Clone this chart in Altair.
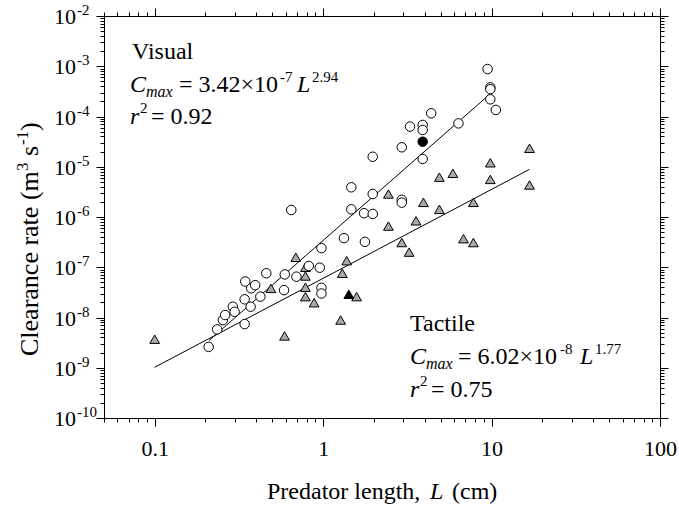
import altair as alt
import pandas as pd

FONT = "Liberation Serif"

# ---- data ----
vis_L = [0.209, 0.235, 0.254, 0.262, 0.291, 0.298, 0.342, 0.342, 0.345, 0.371,
         0.374, 0.395, 0.424, 0.46, 0.586, 0.592, 0.647, 0.694, 0.822, 0.955,
         0.977, 0.977, 0.977, 1.33, 1.47, 1.47, 1.75, 1.77, 1.97, 1.97,
         1.97, 2.93, 2.93, 2.93, 3.28, 3.9, 3.9, 3.9, 4.38, 6.36,
         9.47, 9.83, 9.83, 9.83, 10.6]
vis_C = [2.6e-9, 5.8e-9, 8.9e-9, 1.12e-8, 1.64e-8, 1.3e-8, 7.4e-9, 2.3e-8, 5.2e-8, 1.64e-8,
         3.8e-8, 4.4e-8, 2.6e-8, 7.6e-8, 3.5e-8, 7.2e-8, 1.38e-6, 6.5e-8, 1.06e-7, 9.8e-8,
         2.4e-7, 3.9e-8, 3.0e-8, 3.8e-7, 3.9e-6, 1.42e-6, 1.19e-6, 3.2e-7, 2.87e-6, 1.15e-6,
         1.58e-5, 2.2e-6, 1.93e-6, 2.44e-5, 6.3e-5, 6.8e-5, 5.4e-5, 1.43e-5, 1.16e-4, 7.3e-5,
         8.8e-4, 3.8e-4, 3.5e-4, 2.2e-4, 1.35e-4]

tac_L = [0.1, 0.49, 0.59, 0.688, 0.785, 0.785, 0.785, 0.785, 0.884, 1.27,
         1.30, 1.38, 1.58, 2.44, 2.44, 2.93, 3.24, 3.56, 3.94, 4.9,
         4.9, 5.89, 6.81, 7.8, 7.8, 9.83, 9.83, 16.8, 16.8]
tac_C = [3.7e-9, 3.8e-8, 4.3e-9, 1.58e-7, 1.0e-7, 6.7e-8, 4.0e-8, 2.6e-8, 1.97e-8, 8.9e-9,
         7.6e-8, 1.35e-7, 2.6e-8, 2.87e-6, 6.6e-7, 3.1e-7, 2.0e-7, 8.4e-7, 1.96e-6, 6.2e-6,
         1.42e-6, 7.4e-6, 3.7e-7, 3.1e-7, 1.96e-6, 1.2e-5, 5.6e-6, 2.33e-5, 4.34e-6]

vis_solid_L = [3.9]
vis_solid_C = [3.15e-5]
tac_solid_L = [1.42]
tac_solid_C = [2.9e-8]

# fitted power laws  C = a * L^b
vis_a, vis_b, vis_range = 3.42e-7, 2.94, [0.21, 9.8]
tac_a, tac_b, tac_range = 6.02e-8, 1.77, [0.1, 16.8]

x_major = [0.1, 1, 10, 100]
x_labels = ["0.1", "1", "10", "100"]
y_major = [1e-10, 1e-9, 1e-8, 1e-7, 1e-6, 1e-5, 1e-4, 1e-3, 1e-2]
y_label_base = ["10"] * 9
y_label_exp = ["-10", "-9", "-8", "-7", "-6", "-5", "-4", "-3", "-2"]

x_minor = [k * 10.0 ** e for e in range(-2, 2) for k in range(2, 10)
           if 0.05 - 1e-9 <= k * 10.0 ** e <= 100]
y_minor = [k * 10.0 ** e for e in range(-10, -2) for k in range(2, 10)]

df_vis = pd.DataFrame({"L": vis_L, "C": vis_C})
df_tac = pd.DataFrame({"L": tac_L, "C": tac_C})
df_vis_s = pd.DataFrame({"L": vis_solid_L, "C": vis_solid_C})
df_tac_s = pd.DataFrame({"L": tac_solid_L, "C": tac_solid_C})
df_ylab = pd.DataFrame({"C": y_major, "base": y_label_base, "exp": y_label_exp})
fit_rows = []
for g, a, b, rng in [("vis", vis_a, vis_b, vis_range), ("tac", tac_a, tac_b, tac_range)]:
    for L in rng:
        fit_rows.append({"g": g, "L": L, "C": a * L ** b})
df_fit = pd.DataFrame(fit_rows)
one = pd.DataFrame({"k": [0]})

# ---- layout ----
PL, PT, W, H = 104, 16, 556, 402

xscale = alt.Scale(type="log", domain=[0.05, 100], nice=False)
yscale = alt.Scale(type="log", domain=[1e-10, 1e-2], nice=False)

common = dict(grid=False, domainColor="black", tickColor="black", domainWidth=1,
              tickWidth=1, labelColor="black", labelFont=FONT, labelFontSize=22)

x_lab_expr = "[" + ",".join("'%s'" % s for s in x_labels) + "][round(log(datum.value)/LN10)+1]"

ax_x_bot = alt.Axis(orient="bottom", values=x_major, tickSize=8, labelExpr=x_lab_expr,
                    labelPadding=12, labelFlush=False, labelOverlap=False, **common)
ax_x_bot_m = alt.Axis(orient="bottom", values=x_minor, tickSize=4, labels=False, domain=False, **common)
ax_x_top = alt.Axis(orient="top", values=x_major, tickSize=8, labels=False, **common)
ax_x_top_m = alt.Axis(orient="top", values=x_minor, tickSize=4, labels=False, domain=False, **common)

ax_y_left = alt.Axis(orient="left", values=y_major, tickSize=8, labels=False, **common)
ax_y_left_m = alt.Axis(orient="left", values=y_minor, tickSize=4, labels=False, domain=False, **common)
ax_y_right = alt.Axis(orient="right", values=y_major, tickSize=8, labels=False, **common)
ax_y_right_m = alt.Axis(orient="right", values=y_minor, tickSize=4, labels=False, domain=False, **common)


def xy(ax_x, ax_y):
    return dict(x=alt.X("L:Q", scale=xscale, axis=ax_x, title=None),
                y=alt.Y("C:Q", scale=yscale, axis=ax_y, title=None))


lines = alt.Chart(df_fit).mark_line(color="black", strokeWidth=1).encode(
    **xy(None, None), detail="g:N")

tri = alt.Chart(df_tac).mark_point(shape="triangle-up", size=95, fill="#a9a9a9",
                                   fillOpacity=1, stroke="black", strokeWidth=1,
                                   opacity=1).encode(**xy(ax_x_bot_m, ax_y_left_m))

circ = alt.Chart(df_vis).mark_point(shape="circle", size=90, fill="white", fillOpacity=1,
                                    stroke="black", strokeWidth=1, opacity=1).encode(
    **xy(ax_x_bot, ax_y_left))

circ_s = alt.Chart(df_vis_s).mark_point(shape="circle", size=90, fill="black", fillOpacity=1,
                                        stroke="black", strokeWidth=1, opacity=1).encode(
    **xy(ax_x_top, ax_y_right))

tri_s = alt.Chart(df_tac_s).mark_point(shape="triangle-up", size=95, fill="black",
                                       fillOpacity=1, stroke="black", strokeWidth=1,
                                       opacity=1).encode(**xy(ax_x_top_m, ax_y_right_m))

# y tick labels: "10" with a raised exponent, placed by the y scale
ylab_base = alt.Chart(df_ylab).mark_text(
    font=FONT, fontSize=22, align="left", baseline="alphabetic", color="black", dy=8
).encode(x=alt.value(54 - PL), y=alt.Y("C:Q", scale=yscale, axis=None), text="base:N")
ylab_exp = alt.Chart(df_ylab).mark_text(
    font=FONT, fontSize=15, align="left", baseline="alphabetic", color="black", dy=-1
).encode(x=alt.value(77 - PL), y=alt.Y("C:Q", scale=yscale, axis=None), text="exp:N")


def txt(s, x, y, size=24, italic=False, angle=0, align="left"):
    kw = dict(text=s, font=FONT, fontSize=size, align=align, baseline="alphabetic",
              color="black", fontStyle="italic" if italic else "normal")
    if angle:
        kw["angle"] = angle
    return alt.Chart(one).mark_text(**kw).encode(x=alt.value(x - PL), y=alt.value(y - PT))


texts = [
    # Visual block
    txt("Visual", 132, 59),
    txt("C", 130, 92, italic=True),
    txt("max", 146, 97, size=16, italic=True),
    txt("= 3.42×10", 179, 92),
    txt("-7", 280, 82, size=15),
    txt("L", 297, 92, italic=True),
    txt("2.94", 312, 82, size=15),
    txt("r", 130, 124, italic=True),
    txt("2", 140, 113, size=15),
    txt("= 0.92", 151, 124),
    # Tactile block
    txt("Tactile", 410, 331),
    txt("C", 410, 364, italic=True),
    txt("max", 426, 369, size=16, italic=True),
    txt("= 6.02×10", 458, 364),
    txt("-8", 560, 354, size=15),
    txt("L", 580, 364, italic=True),
    txt("1.77", 595, 354, size=15),
    txt("r", 410, 397, italic=True),
    txt("2", 420, 386, size=15),
    txt("= 0.75", 431, 397),
    # x axis title
    txt("Predator length,", 267, 499),
    txt("L", 430, 499, italic=True),
    txt("(cm)", 452, 499),
    # y axis title (rotated, reads upward; pieces start at the given y)
    txt("Clearance rate (m", 38, 356, size=26, angle=270),
    txt("3", 28, 171, size=17, angle=270),
    txt("s", 38, 156, size=26, angle=270),
    txt("-1", 28, 145, size=17, angle=270),
    txt(")", 38, 131, size=26, angle=270),
]

chart = alt.layer(lines, tri, circ, circ_s, tri_s, ylab_base, ylab_exp, *texts).resolve_axis(
    x="independent", y="independent"
).properties(
    width=W, height=H,
    autosize=alt.AutoSizeParams(type="none"),
    padding={"left": PL, "top": PT, "right": 679 - PL - W, "bottom": 506 - PT - H},
).configure_view(stroke=None).configure(background="white")

chart.save("out.html", embed_options={"renderer": "svg", "actions": False})
